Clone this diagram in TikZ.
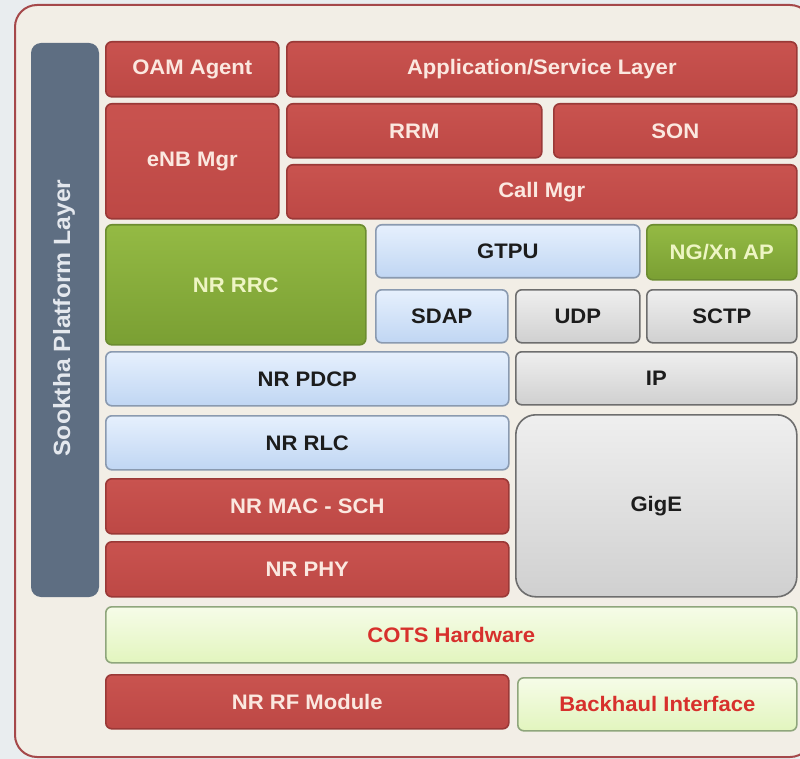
\documentclass[tikz,border=0pt]{standalone}
\usepackage{fontspec}
\setmainfont{Liberation Sans}[FakeStretch=1.05]
\definecolor{redT}{HTML}{C9534F}
\definecolor{redB}{HTML}{BD4845}
\definecolor{redD}{HTML}{9A3937}
\definecolor{txtR}{HTML}{FBE8E0}
\definecolor{greenT}{HTML}{94BA44}
\definecolor{greenB}{HTML}{7A9F33}
\definecolor{greenD}{HTML}{6C8C30}
\definecolor{txtG}{HTML}{EEF5C4}
\definecolor{blueT}{HTML}{E6F0FD}
\definecolor{blueB}{HTML}{C0D6F3}
\definecolor{blueD}{HTML}{8A9AB0}
\definecolor{grayT}{HTML}{EFEFEF}
\definecolor{grayB}{HTML}{D0D0D0}
\definecolor{grayD}{HTML}{6E6E6E}
\definecolor{yelT}{HTML}{F6FCE8}
\definecolor{yelB}{HTML}{E2F5BE}
\definecolor{yelD}{HTML}{8FA67C}
\definecolor{txtRed}{HTML}{D7302C}
\definecolor{frameFill}{HTML}{F2EEE6}
\definecolor{frameD}{HTML}{A5484A}
\definecolor{bgc}{HTML}{E9EDEF}
\definecolor{slate}{HTML}{5E6E82}
\definecolor{slateTxt}{HTML}{E4E8EE}
\definecolor{darkTxt}{HTML}{1C1C1C}
\tikzset{
  blk/.style={rounded corners=6pt, inner sep=0pt, anchor=north west,
    line width=1.6pt, font=\bfseries\fontsize{21}{25}\selectfont},
  redbox/.style={blk, draw=redD, top color=redT, bottom color=redB, text=txtR},
  greenbox/.style={blk, draw=greenD, top color=greenT, bottom color=greenB, text=txtG},
  bluebox/.style={blk, draw=blueD, top color=blueT, bottom color=blueB, text=darkTxt},
  graybox/.style={blk, draw=grayD, top color=grayT, bottom color=grayB, text=darkTxt},
  yelbox/.style={blk, draw=yelD, top color=yelT, bottom color=yelB, text=txtRed},
}
\newcommand\blk[7]{\node[#6, minimum width={(#4-#2)*1pt}, minimum height={(#5-#3)*1pt}] (#1) at (#2,#3) {#7};}
\begin{document}
\begin{tikzpicture}[x=1pt,y=-1pt]
\useasboundingbox (0,0) rectangle (800,759);
\fill[bgc] (0,0) rectangle (800,759);
\draw[frameD, line width=2pt, fill=frameFill, rounded corners=22pt] (15,5) rectangle (812,757);
% platform bar
\fill[slate, rounded corners=10pt] (31,43) rectangle (99,597);
\node[rotate=90, text=slateTxt, font=\bfseries\fontsize{23.5}{27}\selectfont] (plat) at (64,318) {Sooktha Platform Layer};
% boxes
\blk{oam}{105}{41}{278}{96}{redbox}{OAM Agent}
\blk{app}{286}{41}{796}{96}{redbox}{Application/Service Layer}
\blk{enb}{105}{103}{278}{218}{redbox}{eNB Mgr}
\blk{rrm}{286}{103}{541}{157}{redbox}{RRM}
\blk{son}{553}{103}{796}{157}{redbox}{SON}
\blk{call}{286}{164}{796}{218}{redbox}{Call Mgr}
\blk{rrc}{105}{224}{365}{344}{greenbox}{NR RRC}
\blk{gtpu}{375}{224}{639}{277}{bluebox}{GTPU}
\blk{ngxn}{646}{224}{796}{279}{greenbox}{NG/Xn AP}
\blk{sdap}{375}{289}{507}{342}{bluebox}{SDAP}
\blk{udp}{515}{289}{639}{342}{graybox}{UDP}
\blk{sctp}{646}{289}{796}{342}{graybox}{SCTP}
\blk{pdcp}{105}{351}{508}{405}{bluebox}{NR PDCP}
\blk{ip}{515}{351}{796}{404}{graybox}{IP}
\blk{rlc}{105}{415}{508}{469}{bluebox}{NR RLC}
\blk{gige}{515}{414}{796}{596}{graybox, rounded corners=20pt}{GigE}
\blk{mac}{105}{478}{508}{533}{redbox}{NR MAC - SCH}
\blk{phy}{105}{541}{508}{596}{redbox}{NR PHY}
\blk{cots}{105}{606}{796}{662}{yelbox}{COTS Hardware}
\blk{rf}{105}{674}{508}{728}{redbox}{NR RF Module}
\blk{bh}{517}{677}{796}{730}{yelbox}{Backhaul Interface}
\end{tikzpicture}
\end{document}
